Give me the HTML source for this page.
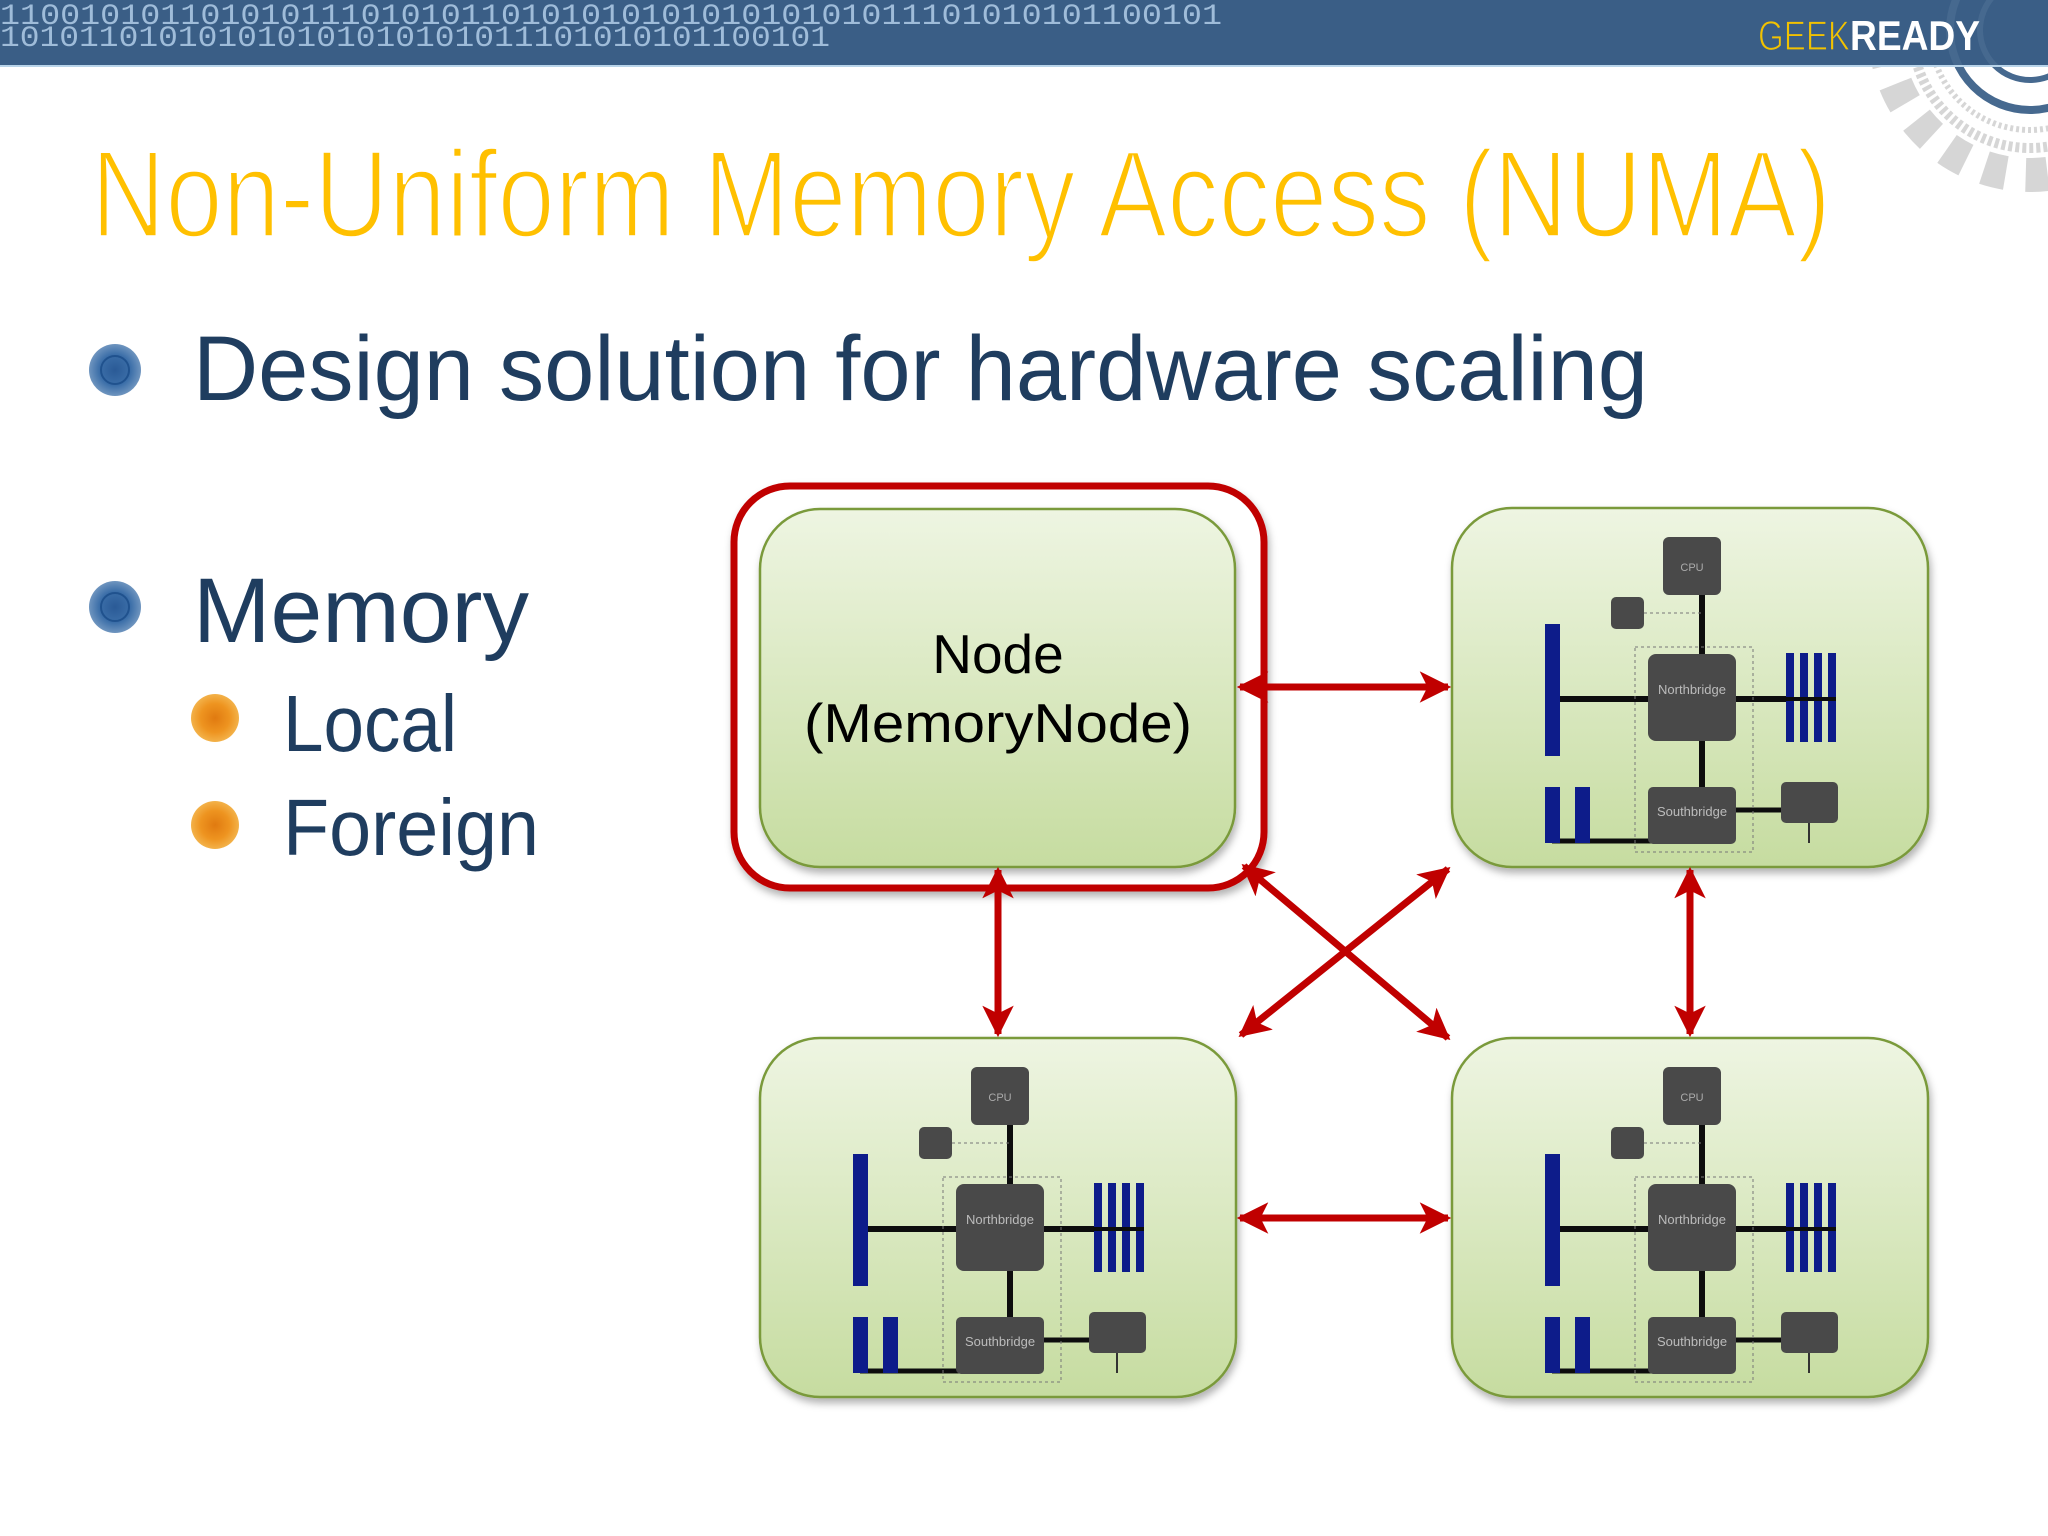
<!DOCTYPE html>
<html><head><meta charset="utf-8"><style>
html,body{margin:0;padding:0;background:#fff;}
svg{display:block;}
</style></head><body>
<svg width="2048" height="1536" viewBox="0 0 2048 1536" xmlns="http://www.w3.org/2000/svg">
<defs>
<linearGradient id="ng" x1="0" y1="0" x2="0" y2="1">
<stop offset="0" stop-color="#eef5e2"/><stop offset="1" stop-color="#c6dca0"/>
</linearGradient>
<radialGradient id="bb"><stop offset="0" stop-color="#2a5a96"/><stop offset="0.6" stop-color="#3b6ea8"/><stop offset="1" stop-color="#6f95bf"/></radialGradient>
<radialGradient id="ob"><stop offset="0" stop-color="#e07a10"/><stop offset="0.6" stop-color="#ee9420"/><stop offset="1" stop-color="#f3b24a"/></radialGradient>
<filter id="sh" x="-10%" y="-10%" width="125%" height="130%"><feDropShadow dx="2" dy="5" stdDeviation="4" flood-color="#000" flood-opacity="0.3"/></filter>
<marker id="ah" viewBox="0 0 10 10" refX="9" refY="5" markerWidth="4.5" markerHeight="4.5" orient="auto-start-reverse" markerUnits="strokeWidth">
<path d="M0,0 L10,5 L0,10 L2.5,5 Z" fill="#c00000"/></marker>
<g id="chip">
<rect x="0" y="0" width="476" height="359" rx="60" fill="url(#ng)" stroke="#7a9a3a" stroke-width="2.5"/>
<line x1="250" y1="85" x2="250" y2="290" stroke="#111" stroke-width="6"/>
<line x1="108" y1="191" x2="340" y2="191" stroke="#111" stroke-width="6"/>
<line x1="284" y1="302" x2="340" y2="302" stroke="#111" stroke-width="5"/>
<line x1="100" y1="333" x2="200" y2="333" stroke="#111" stroke-width="5"/>
<rect x="183" y="139" width="118" height="205" fill="none" stroke="#777" stroke-width="1" stroke-dasharray="3 3"/>
<line x1="192" y1="105" x2="250" y2="105" stroke="#777" stroke-width="1" stroke-dasharray="3 3"/>
<rect x="211" y="29" width="58" height="58" rx="6" fill="#4a4a4a"/>
<text x="240" y="63" font-family="Liberation Sans,sans-serif" font-size="11" fill="#aaa" text-anchor="middle">CPU</text>
<rect x="159" y="89" width="33" height="32" rx="5" fill="#4a4a4a"/>
<rect x="196" y="146" width="88" height="87" rx="8" fill="#4a4a4a"/>
<text x="240" y="186" font-family="Liberation Sans,sans-serif" font-size="13" fill="#bbb" text-anchor="middle">Northbridge</text>
<rect x="196" y="279" width="88" height="57" rx="5" fill="#4a4a4a"/>
<text x="240" y="308" font-family="Liberation Sans,sans-serif" font-size="13" fill="#bbb" text-anchor="middle">Southbridge</text>
<rect x="329" y="274" width="57" height="41" rx="5" fill="#4a4a4a"/>
<line x1="357" y1="315" x2="357" y2="335" stroke="#333" stroke-width="2"/>
<rect x="93" y="116" width="15" height="132" fill="#0d1a8a"/>
<rect x="93" y="279" width="15" height="56" fill="#0d1a8a"/>
<rect x="123" y="279" width="15" height="56" fill="#0d1a8a"/>
<rect x="334" y="145" width="8" height="89" fill="#0d1a8a"/>
<rect x="348" y="145" width="8" height="89" fill="#0d1a8a"/>
<rect x="362" y="145" width="8" height="89" fill="#0d1a8a"/>
<rect x="376" y="145" width="8" height="89" fill="#0d1a8a"/>
<line x1="334" y1="191" x2="384" y2="191" stroke="#111" stroke-width="4"/>
</g>
</defs>

<!-- gear -->
<g fill="none" stroke="#cfcfcf" opacity="0.85">
<circle cx="2030" cy="30" r="145" stroke-width="34" stroke-dasharray="22 20"/>
<circle cx="2030" cy="30" r="118" stroke-width="10" stroke-dasharray="4 3"/>
<circle cx="2030" cy="30" r="100" stroke-width="6" stroke-dasharray="3 3"/>
</g>

<!-- top bar -->
<rect x="0" y="0" width="2048" height="65" fill="#3a5e86"/>
<g fill="none" stroke="#46698f">
<circle cx="2030" cy="30" r="80" stroke-width="8"/>
<circle cx="2030" cy="30" r="50" stroke-width="6"/>
</g>
<rect x="0" y="65" width="2048" height="2" fill="#b8d4ea"/>
<text x="0" y="24" font-family="Liberation Mono,monospace" font-size="30" fill="#9fbcd9" textLength="1222" lengthAdjust="spacingAndGlyphs">1100101011010101110101011010101010101010101011101010101100101</text>
<text x="0" y="46" font-family="Liberation Mono,monospace" font-size="30" fill="#9fbcd9" textLength="830" lengthAdjust="spacingAndGlyphs">101011010101010101010101011101010101100101</text>
<text x="1758" y="50" font-family="Liberation Sans,sans-serif" font-size="42" fill="#f2c200" stroke="#3a5e86" stroke-width="1.2" textLength="92" lengthAdjust="spacingAndGlyphs">GEEK</text>
<text x="1850" y="50" font-family="Liberation Sans,sans-serif" font-size="42" font-weight="bold" fill="#fff" textLength="130" lengthAdjust="spacingAndGlyphs">READY</text>

<!-- title -->
<text x="91" y="237" font-family="Liberation Sans,sans-serif" font-size="124" fill="#ffc000" stroke="#fff" stroke-width="3.5" textLength="1740" lengthAdjust="spacingAndGlyphs">Non-Uniform Memory Access (NUMA)</text>

<!-- bullets -->
<circle cx="115" cy="370" r="26" fill="url(#bb)"/>
<circle cx="115" cy="370" r="14" fill="none" stroke="#20528e" stroke-width="2"/>
<text x="193" y="400" font-family="Liberation Sans,sans-serif" font-size="92" fill="#1f3d5f" textLength="1455" lengthAdjust="spacingAndGlyphs">Design solution for hardware scaling</text>
<circle cx="115" cy="607" r="26" fill="url(#bb)"/>
<circle cx="115" cy="607" r="14" fill="none" stroke="#20528e" stroke-width="2"/>
<text x="193" y="642" font-family="Liberation Sans,sans-serif" font-size="92" fill="#1f3d5f" textLength="336" lengthAdjust="spacingAndGlyphs">Memory</text>
<circle cx="215" cy="718" r="24" fill="url(#ob)"/>
<text x="283" y="751" font-family="Liberation Sans,sans-serif" font-size="80" fill="#1f3d5f" textLength="174" lengthAdjust="spacingAndGlyphs">Local</text>
<circle cx="215" cy="825" r="24" fill="url(#ob)"/>
<text x="283" y="855" font-family="Liberation Sans,sans-serif" font-size="80" fill="#1f3d5f" textLength="256" lengthAdjust="spacingAndGlyphs">Foreign</text>

<!-- node 1 -->
<rect x="734" y="486" width="530" height="402" rx="56" fill="#fff" stroke="#c00000" stroke-width="7" filter="url(#sh)"/>
<rect x="760" y="509" width="475" height="358" rx="60" fill="url(#ng)" stroke="#7a9a3a" stroke-width="2.5" filter="url(#sh)"/>
<text x="998" y="673" font-family="Liberation Sans,sans-serif" font-size="55" fill="#000" text-anchor="middle">Node</text>
<text x="998" y="742" font-family="Liberation Sans,sans-serif" font-size="55" fill="#000" text-anchor="middle" textLength="388" lengthAdjust="spacingAndGlyphs">(MemoryNode)</text>

<!-- other nodes -->
<use href="#chip" x="1452" y="508" filter="url(#sh)"/>
<use href="#chip" x="760" y="1038" filter="url(#sh)"/>
<use href="#chip" x="1452" y="1038" filter="url(#sh)"/>

<!-- arrows -->
<g stroke="#c00000" stroke-width="7" marker-start="url(#ah)" marker-end="url(#ah)">
<line x1="1240" y1="687" x2="1448" y2="687"/>
<line x1="1240" y1="1218" x2="1448" y2="1218"/>
<line x1="998" y1="870" x2="998" y2="1034"/>
<line x1="1690" y1="870" x2="1690" y2="1034"/>
<line x1="1244" y1="866" x2="1448" y2="1038"/>
<line x1="1448" y1="869" x2="1241" y2="1035"/>
</g>
</svg>
</body></html>
